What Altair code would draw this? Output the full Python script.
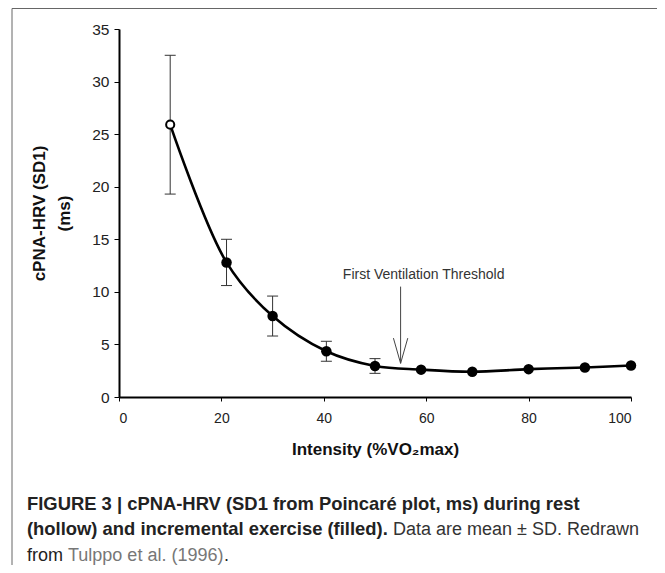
import altair as alt
import pandas as pd

# ---- data ----
intensity = [10, 21, 30, 40.5, 50, 59, 69, 80, 91, 100]
sd1_mean = [25.9, 12.8, 7.7, 4.35, 2.95, 2.6, 2.4, 2.65, 2.8, 3.0]
sd1_sd = [6.6, 2.2, 1.9, 0.95, 0.7, None, None, None, None, None]
phase = ["rest"] + ["exercise"] * 9

x_ticks = [0, 20, 40, 60, 80, 100]
y_ticks = [0, 5, 10, 15, 20, 25, 30, 35]

threshold_label = ["First Ventilation Threshold"]
threshold_x = [55]
threshold_top = [10.5]
threshold_tip = [3.2]
head_y = [5.6]
head_half = [1.4]
label_x = [59.5]
label_y = [11.2]

caption_l1 = ["FIGURE 3 | cPNA-HRV (SD1 from Poincaré plot, ms) during rest"]
caption_l2a = ["(hollow) and incremental exercise (filled)."]
caption_l2b = ["Data are mean \u00b1 SD. Redrawn"]
caption_l3a = ["from"]
caption_l3b = ["Tulppo et al. (1996)"]
caption_l3c = ["."]

FONT = "Liberation Sans"

df = pd.DataFrame({"intensity": intensity, "mean": sd1_mean, "sd": sd1_sd, "phase": phase})
df["upper"] = df["mean"] + df["sd"]
df["lower"] = df["mean"] - df["sd"]
df_err = df.dropna(subset=["sd"])

xs = alt.Scale(domain=[0, 100], nice=False, zero=False)
ys = alt.Scale(domain=[0, 35], nice=False)

x_axis = alt.Axis(
    values=x_ticks, title="Intensity (%VO\u2082max)", grid=False,
    labelFont=FONT, labelFontSize=14, labelColor="#222", labelPadding=10.5,
    tickSize=4, tickWidth=1, tickColor="black", domainColor="black", domainWidth=2,
    titleFont=FONT, titleFontSize=17, titleFontWeight="bold", titleColor="#111",
    titleY=57, titleBaseline="alphabetic",
)
y_axis = alt.Axis(
    values=y_ticks, title=["cPNA-HRV (SD1)", "(ms)"], grid=False,
    labelFont=FONT, labelFontSize=15.5, labelColor="#222", labelPadding=5,
    tickSize=5, tickWidth=1, tickColor="black", domainColor="black", domainWidth=2,
    titleFont=FONT, titleFontSize=17, titleFontWeight="bold", titleColor="#111",
    titleAngle=270, titleX=-75, titleY=184, titleAlign="center",
    titleBaseline="alphabetic", titleLineHeight=25,
)

base = alt.Chart(df)

box = alt.Chart(pd.DataFrame({"box": [0]})).mark_rect(
    fillOpacity=0, stroke="#666", strokeWidth=1
).encode(x=alt.value(-107), y=alt.value(-20.5), x2=alt.value(800), y2=alt.value(800))

err = alt.Chart(df_err).mark_rule(color="#333", strokeWidth=1).encode(
    x=alt.X("intensity:Q", scale=xs, axis=x_axis),
    y=alt.Y("lower:Q", scale=ys, axis=y_axis),
    y2="upper:Q",
)
cap_hi = alt.Chart(df_err).mark_tick(orient="horizontal", size=11, thickness=1, color="#333", opacity=1).encode(
    x=alt.X("intensity:Q", scale=xs), y=alt.Y("upper:Q", scale=ys)
)
cap_lo = alt.Chart(df_err).mark_tick(orient="horizontal", size=11, thickness=1, color="#333", opacity=1).encode(
    x=alt.X("intensity:Q", scale=xs), y=alt.Y("lower:Q", scale=ys)
)

line = base.mark_line(interpolate="catmull-rom", color="black", strokeWidth=2.6).encode(
    x=alt.X("intensity:Q", scale=xs), y=alt.Y("mean:Q", scale=ys), order="intensity:Q"
)
filled_pts = base.transform_filter(alt.datum.phase == "exercise").mark_point(
    shape="circle", filled=True, size=110, color="black", opacity=1
).encode(x=alt.X("intensity:Q", scale=xs), y=alt.Y("mean:Q", scale=ys))
hollow_pts = base.transform_filter(alt.datum.phase == "rest").mark_point(
    shape="circle", filled=True, size=66, fill="white", stroke="black", strokeWidth=2, opacity=1
).encode(x=alt.X("intensity:Q", scale=xs), y=alt.Y("mean:Q", scale=ys))

arrow_df = pd.DataFrame({
    "x": threshold_x, "top": threshold_top, "tip": threshold_tip,
    "hy": head_y, "hl": [a - b for a, b in zip(threshold_x, head_half)],
    "hr": [a + b for a, b in zip(threshold_x, head_half)],
    "lx": label_x, "ly": label_y, "label": threshold_label,
})
arrow_shaft = alt.Chart(arrow_df).mark_rule(color="#444", strokeWidth=1).encode(
    x=alt.X("x:Q", scale=xs), y=alt.Y("top:Q", scale=ys), y2="tip:Q"
)
arrow_l = alt.Chart(arrow_df).mark_rule(color="#444", strokeWidth=1).encode(
    x=alt.X("hl:Q", scale=xs), x2="x:Q", y=alt.Y("hy:Q", scale=ys), y2="tip:Q"
)
arrow_r = alt.Chart(arrow_df).mark_rule(color="#444", strokeWidth=1).encode(
    x=alt.X("hr:Q", scale=xs), x2="x:Q", y=alt.Y("hy:Q", scale=ys), y2="tip:Q"
)
arrow_text = alt.Chart(arrow_df).mark_text(
    font=FONT, fontSize=14, color="#333", align="center", baseline="alphabetic"
).encode(x=alt.X("lx:Q", scale=xs), y=alt.Y("ly:Q", scale=ys), text="label:N")


def cap_text(lines, px, py, bold, color, size):
    return alt.Chart(pd.DataFrame({"t": lines})).mark_text(
        font=FONT, fontSize=size, fontWeight="bold" if bold else "normal",
        color=color, align="left", baseline="alphabetic"
    ).encode(x=alt.value(px), y=alt.value(py), text="t:N")


captions = [
    cap_text(caption_l1, -92, 481, True, "#222", 18.4),
    cap_text(caption_l2a, -92, 506, True, "#222", 18.4),
    cap_text(caption_l2b, 274, 506, False, "#333", 18),
    cap_text(caption_l3a, -92, 532, False, "#222", 18),
    cap_text(caption_l3b, -51, 532, False, "#777", 18),
    cap_text(caption_l3c, 105.1, 532, False, "#222", 18),
]

chart = alt.layer(
    box, err, cap_hi, cap_lo, line, filled_pts, hollow_pts,
    arrow_shaft, arrow_l, arrow_r, arrow_text, *captions
).properties(
    width=512, height=368,
    autosize=alt.AutoSizeParams(type="none"),
    padding={"left": 111, "top": 21, "right": 26, "bottom": 168},
    background="white",
).configure_view(stroke=None)

chart.save("out.html", embed_options={"renderer": "svg", "actions": False})
